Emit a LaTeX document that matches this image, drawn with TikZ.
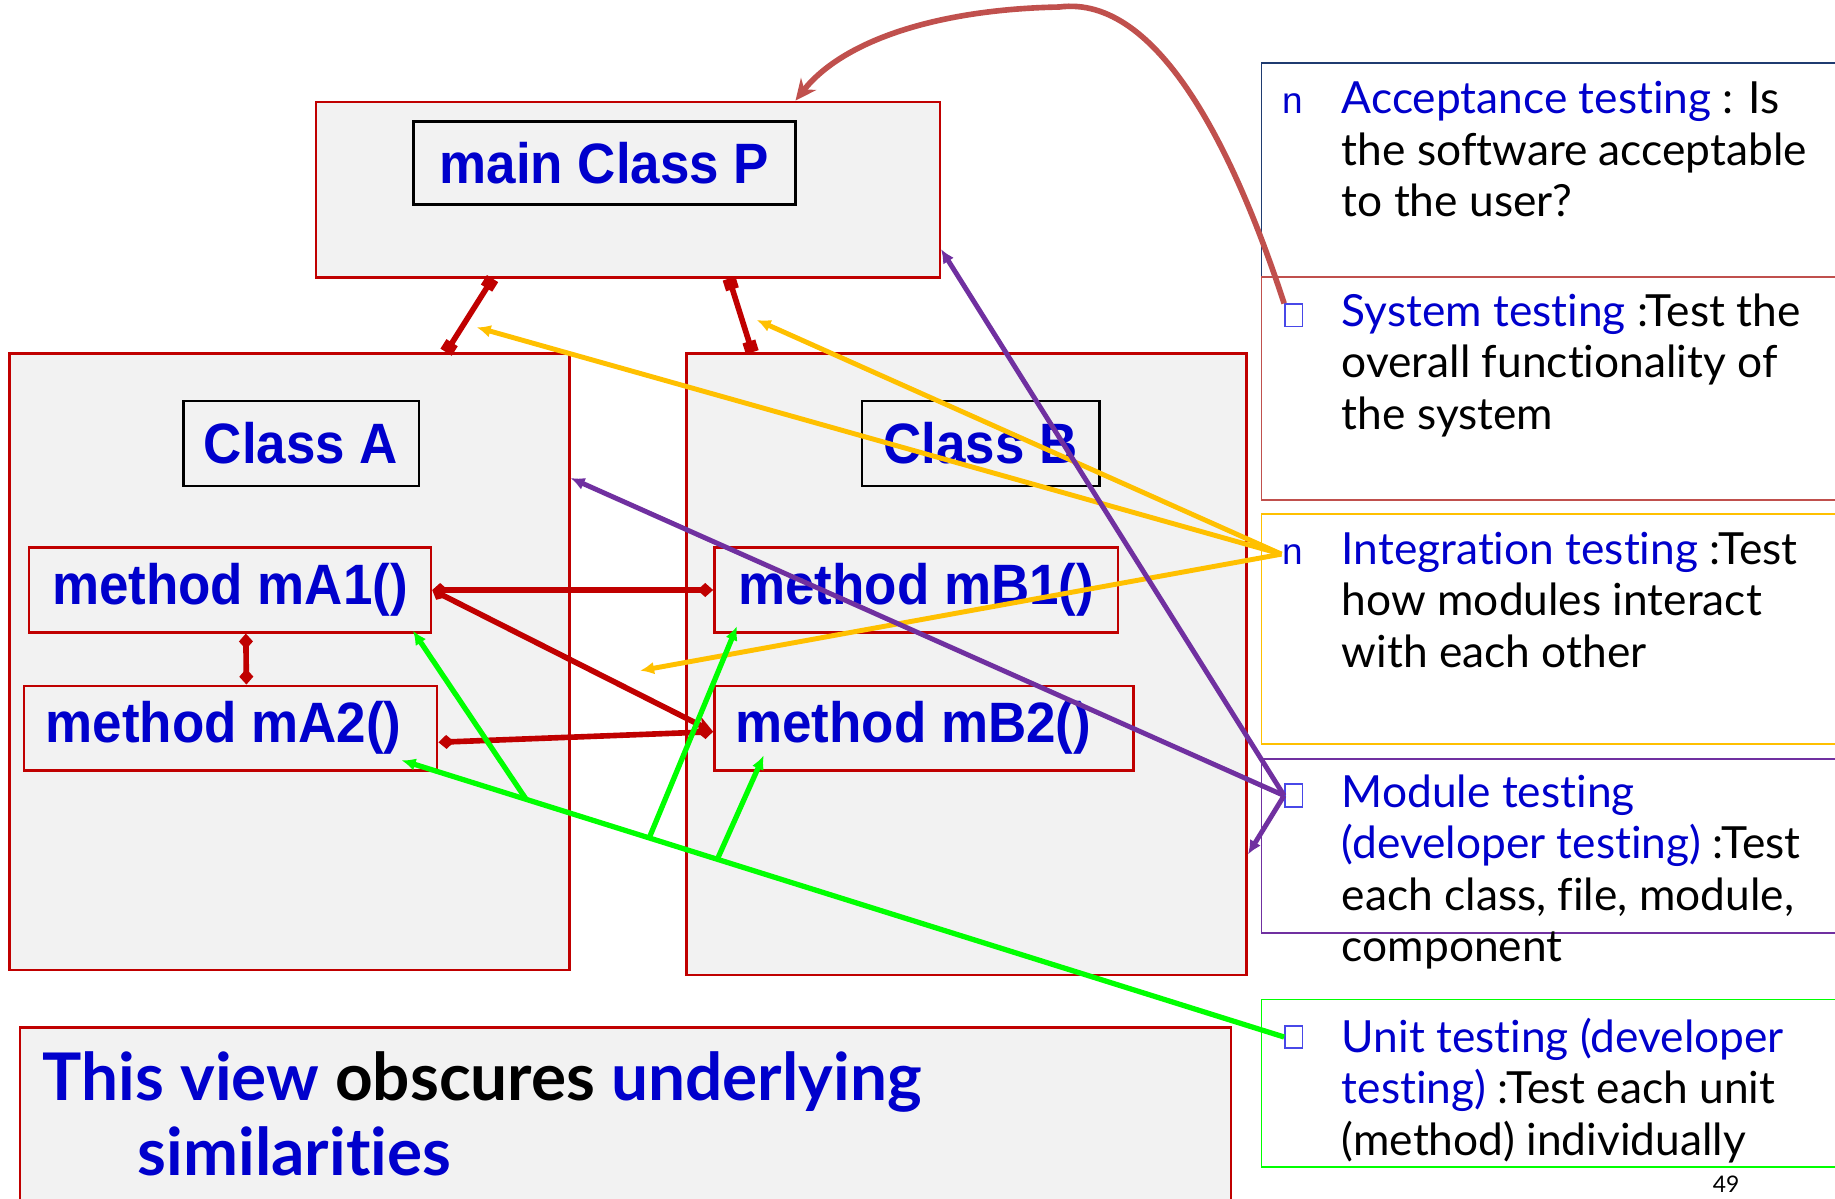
\documentclass[tikz,border=0pt]{standalone}
\usepackage{fontspec}
\usepackage{tikz}
\usetikzlibrary{arrows.meta,fit,calc}
\setmainfont{Lato}[Ligatures=NoCommon]
\newfontfamily\boxfont[FakeStretch=0.93]{Liberation Sans}
\newfontfamily\dingfont{Liberation Sans}
\definecolor{ccRed}{HTML}{C00000}
\definecolor{ccFill}{HTML}{F2F2F2}
\definecolor{ccBlue}{HTML}{0000CC}
\definecolor{ccGold}{HTML}{FFC000}
\definecolor{ccPurple}{HTML}{7030A0}
\definecolor{ccLime}{HTML}{00FF00}
\definecolor{ccBrick}{HTML}{C0504D}
\definecolor{ccNavy}{HTML}{1F3B70}
\definecolor{ccSq}{HTML}{4848E8}
\newcommand{\term}[1]{\textcolor{ccBlue}{#1}}
\newcommand{\stacklines}[2][14.65pt]{\vtop{\baselineskip=#1\halign{##\hfil\cr#2\cr}}}
\tikzset{
  classbox/.style={draw=ccRed, fill=ccFill, line width=0.7pt, inner sep=0pt},
  namebox/.style={draw=black, fill=ccFill, line width=0.8pt, inner sep=0pt},
  methodbox/.style={namebox, draw=ccRed, line width=0.7pt},
  boxlabel/.style={inner sep=0pt, text=ccBlue, font=\boxfont\bfseries\fontsize{16.2}{19}\selectfont},
  sidebox/.style={line width=0.5pt, inner sep=0pt},
  sidetext/.style={anchor=base west, inner sep=0pt, font=\fontsize{12.6}{15}\selectfont},
  nbullet/.style={anchor=base west, inner sep=0pt, text=ccBlue, font=\dingfont\fontsize{10.5}{12}\selectfont},
  sqbullet/.style={draw=ccSq, line width=0.5pt, inner sep=0pt},
  link/.style={draw=ccRed, line width=1.6pt},
  syslink/.style={draw=ccBrick, line width=1.6pt, -{Stealth[length=6pt,width=5.5pt]}},
  intlink/.style={draw=ccGold, line width=1.4pt, -{Latex[length=4pt,width=3.6pt]}},
  modlink/.style={draw=ccPurple, line width=1.4pt, -{Latex[length=4pt,width=3.6pt]}},
  unitlink/.style={draw=ccLime, line width=1.5pt, -{Latex[length=4pt,width=3.6pt]}}
}
\begin{document}
\begin{tikzpicture}[x=0.011703cm, y=-0.011703cm]
  \useasboundingbox (0,0) rectangle (1568,1024);
  \clip (0,0) rectangle (1568,1024);
  \fill[white] (0,0) rectangle (1568,1024);

  % classes
  \node[classbox, fit={(270,87) (803,237)}] (P) {};
  \node[namebox, fit={(353,104) (680,175)}, label={[boxlabel]center:main Class P}] (Pname) {};
  \node[classbox, fit={(8,302) (486.5,829)}] (A) {};
  \node[namebox, fit={(156.5,342.6) (358,415.3)}, label={[boxlabel]center:Class A}] (Aname) {};
  \node[classbox, fit={(586.7,302) (1065.3,833)}] (B) {};
  \node[namebox, fit={(736.6,342.6) (939.4,415.3)}, label={[boxlabel]center:Class B}] (Bname) {};

  % methods
  \node[methodbox, fit={(24.8,468) (368.3,540.3)}, label={[boxlabel]center:method mA1()}] (mA1) {};
  \node[methodbox, fit={(20.5,586) (373.6,658.5)}, label={[boxlabel, xshift=-2pt]center:method mA2()}] (mA2) {};
  \node[methodbox, fit={(610.4,468) (955.3,540.3)}, label={[boxlabel]center:method mB1()}] (mB1) {};
  \node[methodbox, fit={(610.4,586) (968.5,658.5)}, label={[boxlabel, xshift=-3pt]center:method mB2()}] (mB2) {};

  % note at the bottom
  \node[classbox, fit={(17,878) (1052,1060)}] (note) {};
  \node[anchor=base west, inner sep=0pt, font=\bfseries\fontsize{18.7}{22}\selectfont] (notetext) at (36,940)
    {\stacklines[21.6pt]{\term{This view} obscures \term{underlying}\cr\hskip27pt\term{similarities}}};

  % testing levels
  \node[sidebox, draw=ccNavy, fit={(1078,54) (1700,237)}] (accbox) {};
  \node[sidebox, draw=ccBrick, fit={(1078,237) (1700,427)}] (sysbox) {};
  \node[sidebox, draw=ccGold, fit={(1078,439) (1700,636)}] (intbox) {};
  \node[sidebox, draw=ccPurple, fit={(1078,648.6) (1700,797)}] (modbox) {};
  \node[sidebox, draw=ccLime, fit={(1078,854) (1700,997)}] (unitbox) {};

  \node[nbullet] (accb) at (1095,97) {n};
  \node[sqbullet, fit={(1098,260) (1113,279)}] (sysb) {};
  \node[nbullet] (intb) at (1095,482) {n};
  \node[sqbullet, fit={(1098,670) (1113,689.6)}] (modb) {};
  \node[sqbullet, fit={(1098,876.4) (1113,895.8)}] (unitb) {};

  \node[sidetext] (acc) at (1146,97)
    {\stacklines{\term{Acceptance testing} : Is\cr the software acceptable\cr to the user?}};
  \node[sidetext] (sys) at (1146,279)
    {\stacklines{\term{System testing} :Test the\cr overall functionality of\cr the system}};
  \node[sidetext] (int) at (1146,482)
    {\stacklines{\term{Integration testing} :Test\cr how modules interact\cr with each other}};
  \node[sidetext] (mod) at (1146,690)
    {\stacklines{\term{Module testing}\cr \term{(developer testing)} :Test\cr each class, file, module,\cr component}};
  \node[sidetext] (unit) at (1146,899)
    {\stacklines{\term{Unit testing (developer}\cr \term{testing)} :Test each unit\cr (method) individually}};

  \node[anchor=north west, inner sep=0pt, font=\fontsize{6.5}{8}\selectfont] (pageno) at (1463,1004) {49};

  % composition links
  \draw[link, {Square[length=3.2pt,width=3.8pt]}-{Square[length=3.2pt,width=3.8pt]}]
    ([xshift=-38.5pt]P.south) -- ([xshift=44.6pt]A.north);
  \draw[link, {Square[length=3.2pt,width=3.8pt]}-{Square[length=3.2pt,width=3.8pt]}]
    ([xshift=28.8pt]P.south) -- ([xshift=-61pt]B.north);
  \draw[link, {Diamond[length=4.5pt,width=4pt]}-{Diamond[length=4.5pt,width=4pt]}]
    ([xshift=4.5pt]mA1.south) -- ([xshift=4.5pt]mA2.north);
  \draw[link, {Diamond[length=4.5pt,width=4pt]}-{Diamond[length=4.5pt,width=4pt]}]
    (mA1.east) -- (mB1.west);
  \draw[link, {Diamond[length=4.5pt,width=4pt]}-{Stealth[length=5pt,width=4.5pt]}]
    (mA1.east) -- ([yshift=-1pt]mB2.west);
  \draw[link, {Diamond[length=4.5pt,width=4pt]}-{Diamond[length=4.5pt,width=4pt]}]
    ([yshift=-4pt]mA2.east) -- ([yshift=-1pt]mB2.west);

  % system testing
  \draw[syslink] (sysb.north west) .. controls (1055,130) and (990,-5) .. (905,6)
    .. controls (800,8) and (720,35) .. ([xshift=47.7pt]P.north);

  % integration testing
  \coordinate (intPA) at (407.3,279.7);
  \coordinate (intPB) at (646.6,273.4);
  \coordinate (intAB) at (546.9,573.1);
  \draw[intlink] (intb.west) -- (intPA);
  \draw[intlink] (intb.west) -- (intPB);
  \draw[intlink] (intb.west) -- (intAB);

  % module testing
  \draw[modlink] (modb.west) -- ([yshift=8.4pt]P.south east);
  \draw[modlink] (modb.west) -- ([yshift=-35.8pt]A.north east);
  \draw[modlink] (modb.west) -- ([yshift=34.6pt]B.south east);

  % unit testing
  \coordinate (unitA2) at ([xshift=-10.5pt,yshift=3.3pt]mA2.south east);
  \draw[unitlink] (unitb.west) -- (unitA2);
  \draw[unitlink] ($(unitb.west)!0.8588!(unitA2)$) -- ([xshift=-5.5pt,yshift=0.8pt]mA1.south east);
  \draw[unitlink] ($(unitb.west)!0.7194!(unitA2)$) -- ([xshift=6.8pt,yshift=2.1pt]mB1.south west);
  \draw[unitlink] ($(unitb.west)!0.6422!(unitA2)$) -- ([xshift=14.4pt,yshift=4.7pt]mB2.south west);
\end{tikzpicture}
\end{document}
